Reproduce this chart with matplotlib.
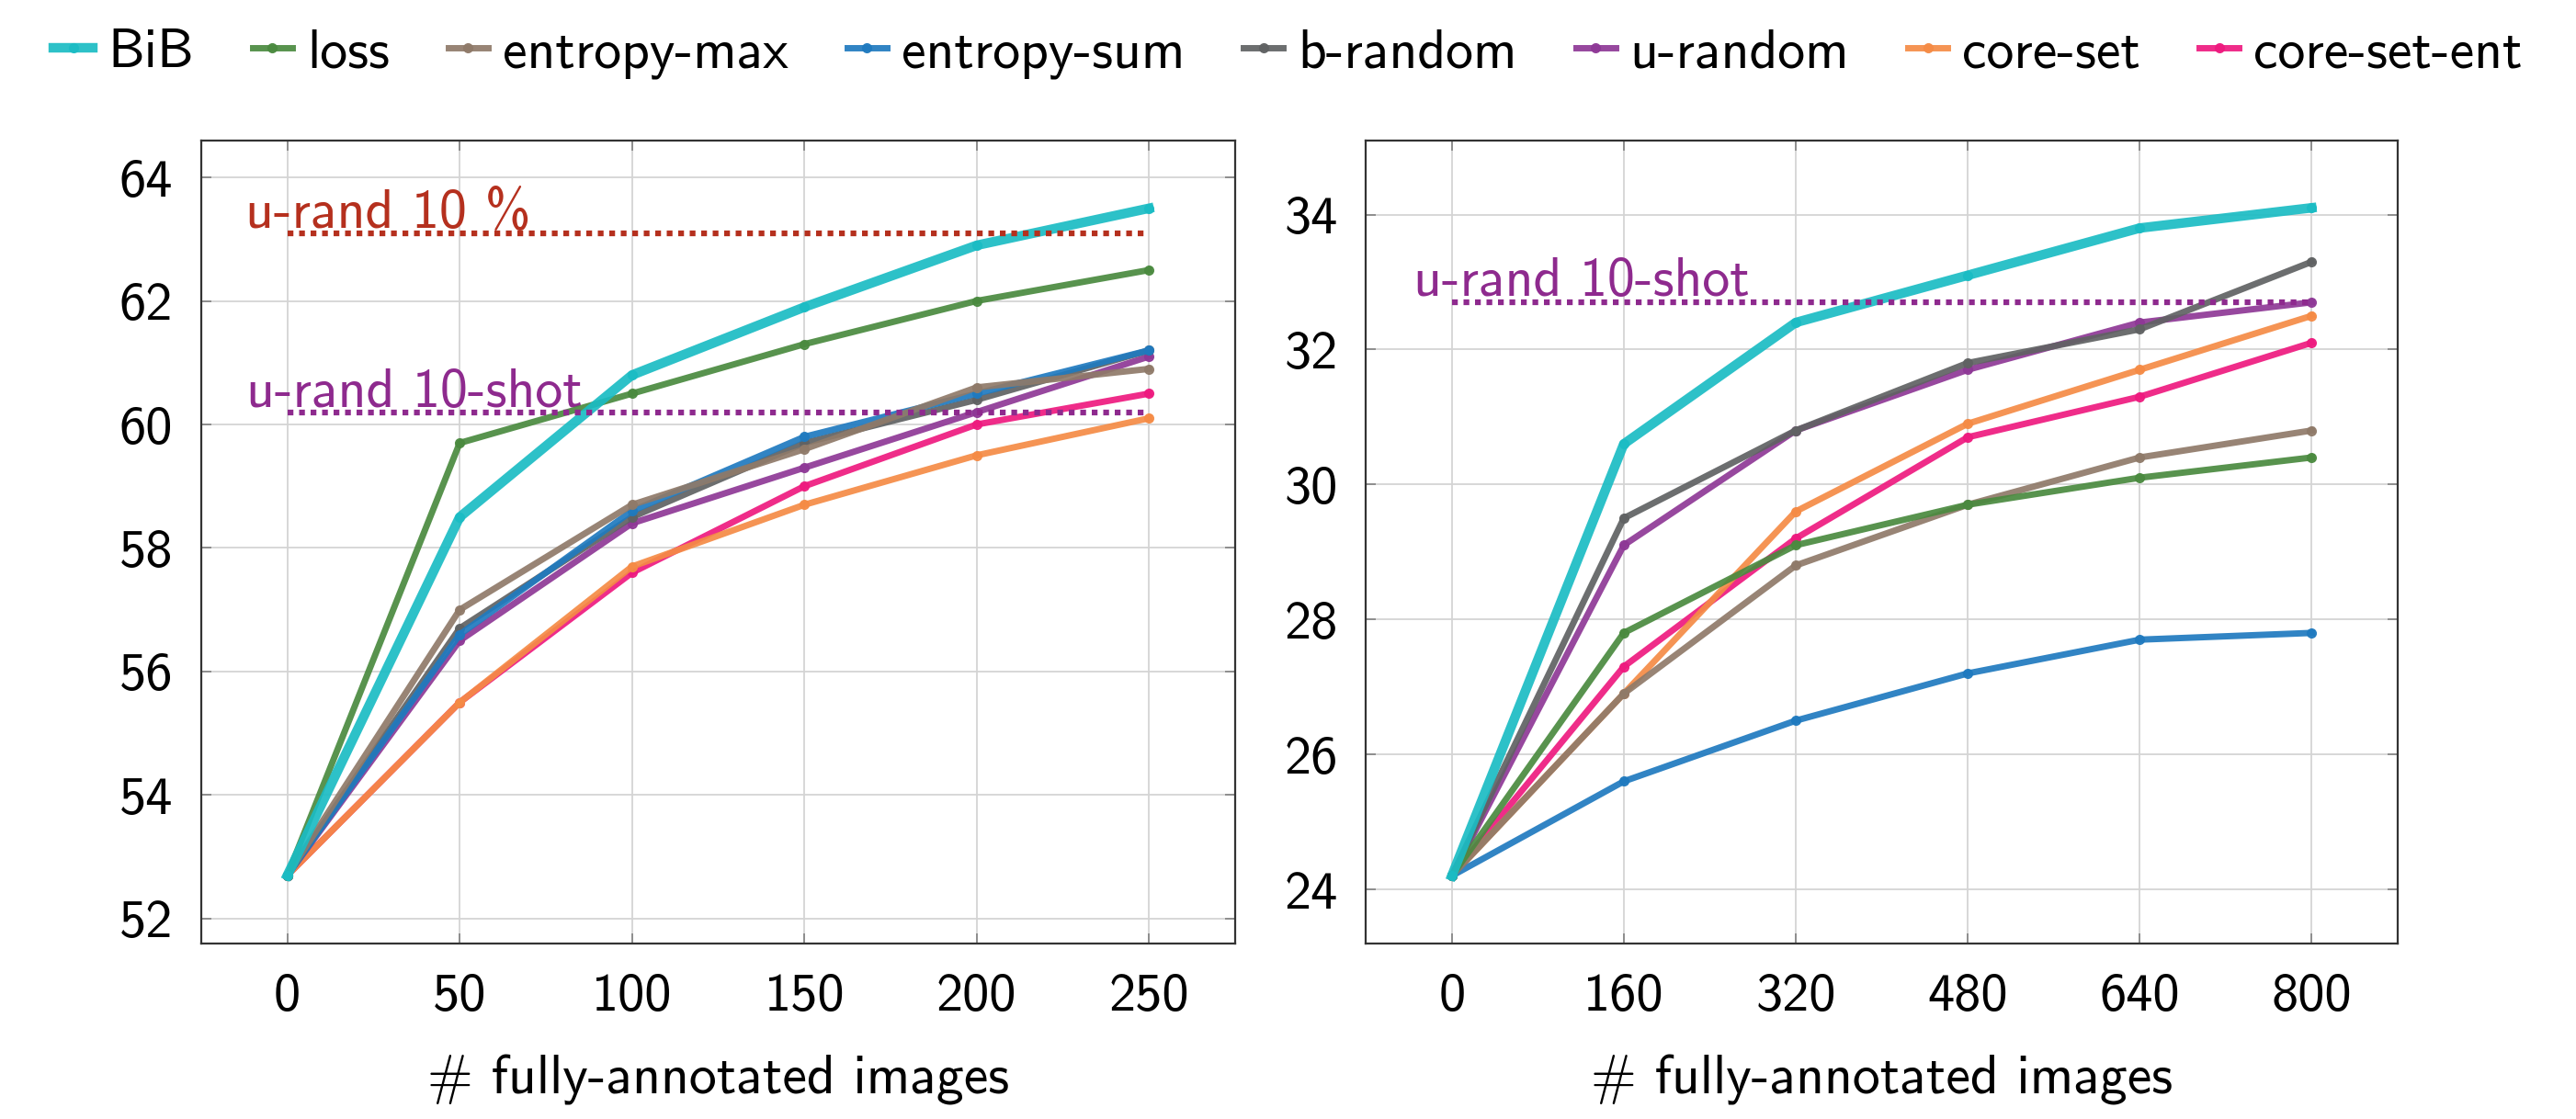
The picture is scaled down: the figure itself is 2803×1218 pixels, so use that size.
import numpy as np
import matplotlib
matplotlib.use('Agg')
import matplotlib.pyplot as plt

plt.rcParams['font.family'] = ['cmss10', 'DejaVu Sans']
plt.rcParams['axes.unicode_minus'] = False
plt.rcParams['mathtext.fontset'] = 'cm'

#-------------------------------------------------------------------------------
#data

x_left = [0, 50, 100, 150, 200, 250]
x_right = [0, 160, 320, 480, 640, 800]

names = ['BiB', 'loss', 'entropy-max', 'entropy-sum', 'b-random',
         'u-random', 'core-set', 'core-set-ent']
colors = ['#1bbcc4', '#4a8a3f', '#8f7a69', '#1f7abf', '#606263',
          '#8e3896', '#f58b45', '#ee1a7f']

left_bib = [52.7, 58.5, 60.8, 61.9, 62.9, 63.5]
left_loss = [52.7, 59.7, 60.5, 61.3, 62.0, 62.5]
left_ent_max = [52.7, 57.0, 58.7, 59.6, 60.6, 60.9]
left_ent_sum = [52.7, 56.6, 58.6, 59.8, 60.5, 61.2]
left_b_rand = [52.7, 56.7, 58.5, 59.7, 60.4, 61.2]
left_u_rand = [52.7, 56.5, 58.4, 59.3, 60.2, 61.1]
left_core = [52.7, 55.5, 57.7, 58.7, 59.5, 60.1]
left_core_ent = [52.7, 55.5, 57.6, 59.0, 60.0, 60.5]

right_bib = [24.2, 30.6, 32.4, 33.1, 33.8, 34.1]
right_loss = [24.2, 27.8, 29.1, 29.7, 30.1, 30.4]
right_ent_max = [24.2, 26.9, 28.8, 29.7, 30.4, 30.8]
right_ent_sum = [24.2, 25.6, 26.5, 27.2, 27.7, 27.8]
right_b_rand = [24.2, 29.5, 30.8, 31.8, 32.3, 33.3]
right_u_rand = [24.2, 29.1, 30.8, 31.7, 32.4, 32.7]
right_core = [24.2, 26.9, 29.6, 30.9, 31.7, 32.5]
right_core_ent = [24.2, 27.3, 29.2, 30.7, 31.3, 32.1]

left_series = [left_bib, left_loss, left_ent_max, left_ent_sum,
               left_b_rand, left_u_rand, left_core, left_core_ent]
right_series = [right_bib, right_loss, right_ent_max, right_ent_sum,
                right_b_rand, right_u_rand, right_core, right_core_ent]

#reference lines
left_10pct = 63.1
left_10shot = 60.2
right_10shot = 32.7

#-------------------------------------------------------------------------------

fig = plt.figure(figsize=(28.03, 12.18), dpi=100)
ax1 = fig.add_axes([0.0781, 0.157, 0.4014, 0.7176])
ax2 = fig.add_axes([0.5302, 0.157, 0.4006, 0.7176])

fs = 43

def style_axes(ax, xt, xlim, yt, ylim):
    ax.set_xlim(*xlim)
    ax.set_ylim(*ylim)
    ax.set_xticks(xt)
    ax.set_yticks(yt)
    ax.grid(True, color='#d4d4d4', lw=1.3)
    ax.set_axisbelow(True)
    ax.tick_params(direction='in', length=8, width=1.3, color='#888888',
                   top=True, right=True, labelsize=fs - 1)
    ax.tick_params(axis='x', pad=23)
    ax.tick_params(axis='y', pad=22)
    for s in ax.spines.values():
        s.set_color('#333333')
        s.set_linewidth(1.6)
    ax.set_xlabel('# fully-annotated images', fontsize=fs, labelpad=27)

def draw_series(ax, xs, series):
    handles = []
    for i, (ys, c, n) in enumerate(zip(series, colors, names)):
        lw = 7.5 if i == 0 else 5
        h, = ax.plot(xs, ys, color=c, lw=lw, marker='o', ms=7,
                     alpha=0.92, label=n, zorder=3 + (8 - i) * 0.1)
        handles.append(h)
    return handles

handles = draw_series(ax1, x_left, left_series)
draw_series(ax2, x_right, right_series)

#horizontal reference lines with their labels
dot = (0, (1, 1))
ax1.plot([0, 250], [left_10pct] * 2, color='#b5301e', lw=4.5, ls=dot, zorder=4)
ax1.text(-12.3, left_10pct + 0.09, 'u-rand 10 %', color='#b5301e', fontsize=fs,
         ha='left', va='baseline')
ax1.plot([0, 250], [left_10shot] * 2, color='#8e2a8e', lw=4.5, ls=dot, zorder=4)
ax1.text(-11.8, left_10shot + 0.09, 'u-rand 10-shot', color='#8e2a8e', fontsize=fs,
         ha='left', va='baseline')
ax2.plot([0, 800], [right_10shot] * 2, color='#8e2a8e', lw=4.5, ls=dot, zorder=4)
ax2.text(-36, right_10shot + 0.09, 'u-rand 10-shot', color='#8e2a8e', fontsize=fs,
         ha='left', va='baseline')

style_axes(ax1, x_left, (-25, 275), np.arange(52, 65, 2), (51.6, 64.6))
style_axes(ax2, x_right, (-80, 880), np.arange(24, 35, 2), (23.2, 35.1))

fig.legend(handles=handles, loc='center', bbox_to_anchor=(0.5, 0.952), ncol=8,
           frameon=False, fontsize=fs, handlelength=0.72, handletextpad=0.27,
           columnspacing=1.07, borderpad=0)

fig.savefig('out.png', dpi=100)
